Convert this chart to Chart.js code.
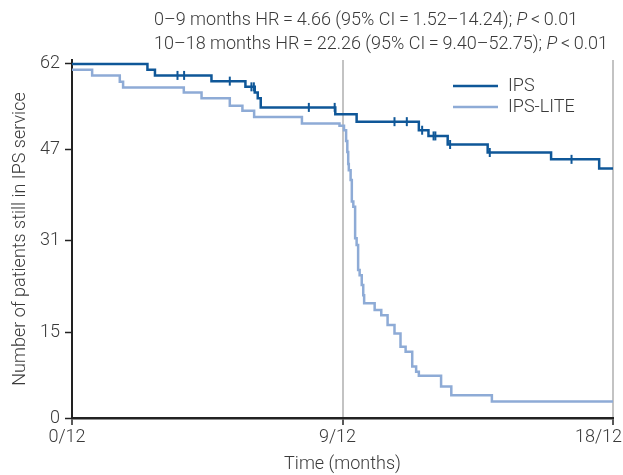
<!DOCTYPE html>
<html>
<head>
<meta charset="utf-8">
<script src="https://cdn.jsdelivr.net/npm/chart.js@4.4.1/dist/chart.umd.min.js"></script>
<style>
html, body { margin: 0; padding: 0; background: #fff; }
#chartBox { width: 623px; height: 475px; position: relative; }
</style>
</head>
<body>
<div id="chartBox"><canvas id="kmChart"></canvas></div>
<script>
// IPS : month where the count changes + the new count (Kaplan-Meier steps)
var ipsTimes  = [0, 2.51, 2.76, 4.64, 5.77, 6.08, 6.18, 6.28, 8.76, 9.47, 11.54, 11.86, 12.50, 13.83, 15.94, 17.54, 18];
var ipsCounts = [62, 61, 60, 59, 58, 57, 56, 54.4, 53.2, 51.9, 50.4, 49.4, 47.9, 46.5, 45.3, 43.7, 43.7];
// censored IPS patients (vertical ticks)
var ipsCensored = [3.51, 3.73, 5.25, 5.97, 6.05, 7.88, 8.74, 10.73, 11.14, 11.65, 12.03, 12.09, 12.58, 13.90, 16.62];

// IPS-LITE
var liteTimes  = [0, 0.67, 1.59, 1.70, 3.72, 4.31, 5.25, 5.67, 6.06, 7.65, 8.90, 9.05, 9.12, 9.16, 9.19, 9.21, 9.27, 9.31, 9.36, 9.42, 9.47, 9.52, 9.57, 9.64, 9.69, 9.72, 10.07, 10.29, 10.50, 10.73, 10.93, 11.10, 11.32, 11.45, 11.54, 12.28, 12.62, 13.97, 18];
var liteCounts = [61, 60, 58.9, 57.9, 57.0, 56.0, 54.7, 53.8, 52.7, 51.6, 51.2, 50.4, 48.5, 46.6, 44.5, 43.4, 41.7, 37.9, 37.0, 31.5, 30.3, 25.9, 25.0, 23.3, 21.5, 20.1, 18.9, 18.0, 16.3, 14.8, 12.5, 11.6, 9.0, 8.1, 7.4, 5.5, 4.0, 2.9, 2.9];

var xTicks = [0, 9, 18];
var xTickLabels = ["0/12", "9/12", "18/12"];
var yTicks = [0, 15, 31, 47, 62];

var seriesNames  = ["IPS", "IPS-LITE"];
var seriesColors = ["#0f5798", "#8eabd6"];

// header text, the middle piece is the italic P
var headerLines = [
	["0\u20139 months HR\u2009=\u20094.66 (95% CI\u2009=\u20091.52\u201314.24); ", "P", "\u2009<\u20090.01"],
	["10\u201318 months HR\u2009=\u200922.26 (95% CI\u2009=\u20099.40\u201352.75); ", "P", "\u2009<\u20090.01"]
];

var fontFam = "Roboto, 'Liberation Sans', sans-serif";
var fontSize = 18;
var textColor = "#3a3a3a";

function toPoints(times, counts){
	var pts = [];
	for(var i=0; i<times.length; i++){
		pts.push({x: times[i], y: counts[i]});
	}
	return pts;
}

// value of a step curve at month t
function valueAt(times, counts, t){
	var v = counts[0];
	for(var i=0; i<times.length; i++){
		if(times[i] <= t) v = counts[i];
	}
	return v;
}

function censorPoints(){
	var pts = [];
	for(var i=0; i<ipsCensored.length; i++){
		pts.push({x: ipsCensored[i], y: valueAt(ipsTimes, ipsCounts, ipsCensored[i])});
	}
	return pts;
}

// header lines, legend inside the plot, x tick labels (kept inside the canvas)
var headerPlugin = {
	id: 'headerPlugin',
	afterDraw: function(chart){
		var c = chart.ctx;
		c.save();
		c.fillStyle = textColor;
		c.textBaseline = 'middle';
		c.textAlign = 'left';
		var lineY = [20, 44];
		for(var i=0; i<headerLines.length; i++){
			var x = 154;
			for(var j=0; j<headerLines[i].length; j++){
				c.font = (j==1 ? "italic " : "") + "300 " + fontSize + "px " + fontFam;
				c.fillText(headerLines[i][j], x, lineY[i]);
				x += c.measureText(headerLines[i][j]).width;
			}
		}
		// legend
		var legY = [86, 107];
		c.font = "300 " + fontSize + "px " + fontFam;
		for(var k=0; k<seriesNames.length; k++){
			c.strokeStyle = seriesColors[k];
			c.lineWidth = 2.5;
			c.beginPath();
			c.moveTo(453, legY[k]);
			c.lineTo(498, legY[k]);
			c.stroke();
			c.fillText(seriesNames[k], 508, legY[k]);
		}
		// x tick labels
		var xs = chart.scales.x;
		c.textAlign = 'center';
		c.textBaseline = 'top';
		for(var n=0; n<xTicks.length; n++){
			var w = c.measureText(xTickLabels[n]).width;
			var px = xs.getPixelForValue(xTicks[n]) - 5;
			px = Math.min(px, chart.width - 1 - w/2);
			c.fillText(xTickLabels[n], px, xs.top + 10);
		}
		c.restore();
	}
};

var ctx = document.getElementById('kmChart').getContext('2d');
new Chart(ctx, {
	type: 'line',
	data: {
		datasets: [
			{
				label: seriesNames[0],
				data: toPoints(ipsTimes, ipsCounts),
				borderColor: seriesColors[0],
				borderWidth: 2.5,
				stepped: true,
				pointRadius: 0,
				fill: false
			},
			{
				label: seriesNames[1],
				data: toPoints(liteTimes, liteCounts),
				borderColor: seriesColors[1],
				borderWidth: 2.5,
				stepped: true,
				pointRadius: 0,
				fill: false
			},
			{
				label: 'censored',
				type: 'scatter',
				data: censorPoints(),
				pointStyle: 'line',
				rotation: 90,
				pointRadius: 4.5,
				borderColor: seriesColors[0],
				borderWidth: 2,
				showLine: false
			}
		]
	},
	options: {
		responsive: true,
		maintainAspectRatio: false,
		animation: false,
		layout: { padding: { top: 60, right: 10, left: 0, bottom: 0 } },
		plugins: {
			legend: { display: false },
			tooltip: { enabled: false }
		},
		scales: {
			x: {
				type: 'linear',
				min: 0,
				max: 18,
				afterBuildTicks: function(scale){
					scale.ticks = xTicks.map(function(v){ return {value: v}; });
				},
				afterFit: function(scale){
					scale.height = 57;
					scale.paddingLeft = 0;
					scale.paddingRight = 0;
				},
				ticks: { display: false },
				grid: {
					color: function(c){ return (c.tick && c.tick.value === 0) ? 'rgba(0,0,0,0)' : '#c3c3c3'; },
					lineWidth: 2,
					tickColor: '#222',
					tickWidth: 1.5,
					tickLength: 7
				},
				border: { color: '#222', width: 2.5 },
				title: {
					display: true,
					text: 'Time (months)',
					color: textColor,
					padding: { top: 0, bottom: 0 },
					font: { family: fontFam, size: fontSize, weight: '300' }
				}
			},
			y: {
				min: 0,
				max: 62.7,
				afterBuildTicks: function(scale){
					scale.ticks = yTicks.map(function(v){ return {value: v}; });
				},
				afterFit: function(scale){
					scale.width = 72;
				},
				ticks: {
					padding: 5,
					color: textColor,
					font: { family: fontFam, size: fontSize, weight: '300' }
				},
				grid: {
					drawOnChartArea: false,
					tickColor: '#222',
					tickWidth: 1.5,
					tickLength: 7
				},
				border: { color: '#222', width: 2 },
				title: {
					display: true,
					text: 'Number of patients still in IPS service',
					color: textColor,
					padding: { top: 10, bottom: 0 },
					font: { family: fontFam, size: fontSize, weight: '300' }
				}
			}
		}
	},
	plugins: [headerPlugin]
});
</script>
</body>
</html>
